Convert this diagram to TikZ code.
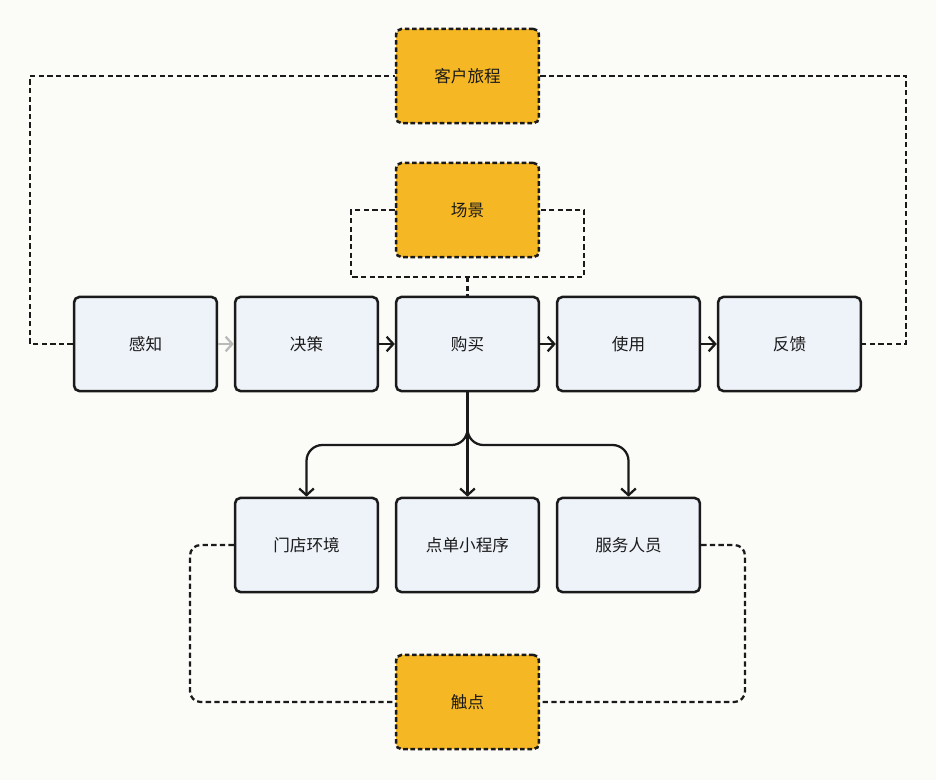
\documentclass[tikz,border=0pt]{standalone}
\usepackage{fontspec}
\setmainfont{Noto Sans CJK SC}
\usetikzlibrary{arrows.meta,positioning,calc}
\definecolor{pagebg}{RGB}{251,251,248}
\definecolor{stagefill}{RGB}{238,242,249}
\definecolor{tagfill}{RGB}{245,184,36}
\definecolor{inkdark}{RGB}{26,26,26}
\definecolor{inkgray}{RGB}{185,185,185}

\begin{document}
\begin{tikzpicture}[x=0.02646cm,y=-0.02646cm,
    stagebox/.style={draw=inkdark, line width=1.9pt, fill=stagefill, rounded corners=4pt,
      minimum width=3.78cm, minimum height=2.49cm, font=\fontsize{12.5pt}{14pt}\selectfont, text=inkdark},
    tagbox/.style={stagebox, fill=tagfill, dash pattern=on 3.5pt off 2pt},
    flow/.style={draw=inkdark, line width=1.7pt, -{Straight Barb[length=5pt,width=11pt]}},
    loopline/.style={draw=inkdark, line width=1.7pt, dash pattern=on 4pt off 2.5pt}]
  % background and page size
  \fill[pagebg] (0,0) rectangle (936,780);
  % main stages
  \node[stagebox] (ganzhi) at (145.5,344) {感知};
  \node[stagebox] (juece) at (306.5,344) {决策};
  \node[stagebox] (goumai) at (467.5,344) {购买};
  \node[stagebox] (shiyong) at (628.5,344) {使用};
  \node[stagebox] (fankui) at (789.5,344) {反馈};
  % tags
  \node[tagbox] (journey) at (467.5,76) {客户旅程};
  \node[tagbox] (scene) at (467.5,210) {场景};
  \node[tagbox] (touch) at (467.5,702) {触点};
  % touchpoints
  \node[stagebox] (store) at (306.5,545) {门店环境};
  \node[stagebox] (app) at (467.5,545) {点单小程序};
  \node[stagebox] (staff) at (628.5,545) {服务人员};
  % stage flow
  \draw[flow, draw=inkgray] (ganzhi) -- (juece);
  \draw[flow] (juece) -- (goumai);
  \draw[flow] (goumai) -- (shiyong);
  \draw[flow] (shiyong) -- (fankui);
  % journey loop
  \coordinate (journeyL) at (30,344);
  \coordinate (journeyR) at (906,76);
  \draw[loopline] (ganzhi.west) -- (journeyL) |- (journey.west);
  \draw[loopline] (journey.east) -- (journeyR) |- (fankui.east);
  % scene bracket
  \coordinate (sceneL) at (351,277);
  \coordinate (sceneR) at (584,277);
  \coordinate (sceneB) at (467.5,277);
  \draw[loopline] (scene.west) -| (sceneL) -- (sceneR) |- (scene.east);
  \draw[loopline] (sceneB) -- (goumai.north);
  % branch to touchpoints
  \coordinate (split) at (467.5,445);
  \draw[flow] (goumai.south) -- (app.north);
  \draw[flow, rounded corners=12pt] (goumai.south) -- (split) -| (store.north);
  \draw[flow, rounded corners=12pt] (goumai.south) -- (split) -| (staff.north);
  % touchpoint loop
  \coordinate (touchL) at (190,545);
  \coordinate (touchR) at (745,545);
  \draw[loopline, rounded corners=8pt] (store.west) -- (touchL) |- (touch.west);
  \draw[loopline, rounded corners=8pt] (staff.east) -- (touchR) |- (touch.east);
\end{tikzpicture}
\end{document}
